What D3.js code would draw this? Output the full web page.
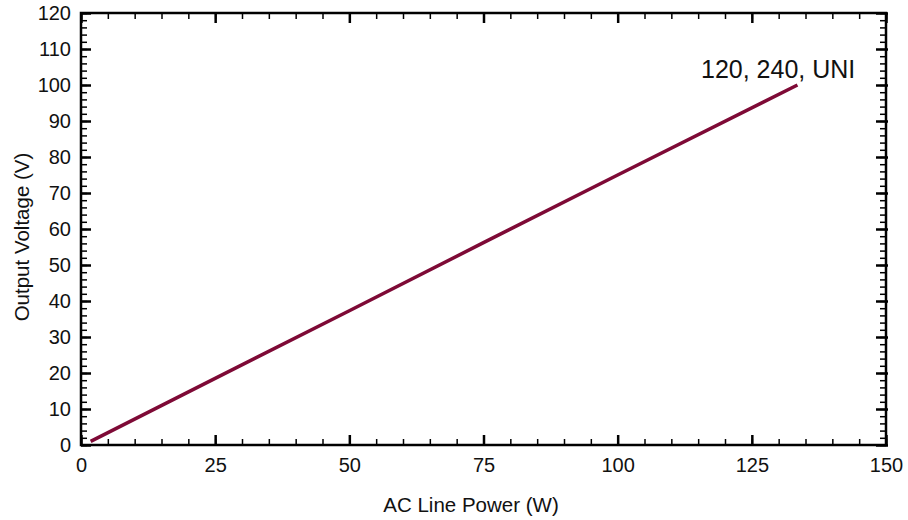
<!DOCTYPE html>
<html>
<head>
<meta charset="utf-8">
<script src="https://cdn.jsdelivr.net/npm/d3@7/dist/d3.min.js"></script>
<style>
  html, body { margin: 0; padding: 0; background: #ffffff; }
  svg { display: block; font-family: "Liberation Sans", Arial, sans-serif; }
  .axis path.domain { display: none; }
  .axis text { font-size: 20px; fill: #111; font-family: "Liberation Sans", Arial, sans-serif; }
</style>
</head>
<body>
<svg id="chart" width="908" height="520"></svg>
<script>
// Output voltage against AC line power (curve labelled 120, 240, UNI)
const powerW = [1.8, 25, 50, 75, 100, 133.5];
const outputV = [1, 18.5, 37.3, 56.2, 75, 100];
const seriesLabel = "120, 240, UNI";

const xMajorTicks = [0, 25, 50, 75, 100, 125, 150];
const xMinorTicks = d3.range(0, 151, 5);
const yMajorTicks = [0, 10, 20, 30, 40, 50, 60, 70, 80, 90, 100, 110, 120];
const yMinorTicks = d3.range(0, 121, 2);

const xTitle = "AC Line Power (W)";
const yTitle = "Output Voltage (V)";

const svg = d3.select("#chart");
const plotL = 81, plotR = 886, plotT = 13, plotB = 445;

const x = d3.scaleLinear().domain([0, 150]).range([plotL, plotR]);
const y = d3.scaleLinear().domain([0, 120]).range([plotB, plotT]);

// minor ticks (inward, no labels)
function minor(axis) { return axis.tickFormat("").tickSizeOuter(0); }
function styleTicks(sel, w) { sel.selectAll("line").attr("stroke", "#000").attr("stroke-width", w); }

styleTicks(svg.append("g").attr("class", "axis").attr("transform", `translate(${plotL},0)`)
  .call(minor(d3.axisLeft(y).tickValues(yMinorTicks).tickSizeInner(-6))), 1.5);
styleTicks(svg.append("g").attr("class", "axis").attr("transform", `translate(${plotR},0)`)
  .call(minor(d3.axisRight(y).tickValues(yMinorTicks).tickSizeInner(-6))), 1.5);
styleTicks(svg.append("g").attr("class", "axis").attr("transform", `translate(0,${plotB})`)
  .call(minor(d3.axisBottom(x).tickValues(xMinorTicks).tickSizeInner(-6))), 1.5);
styleTicks(svg.append("g").attr("class", "axis").attr("transform", `translate(0,${plotT})`)
  .call(minor(d3.axisTop(x).tickValues(xMinorTicks).tickSizeInner(-6))), 1.5);

// major ticks with labels on left and bottom
styleTicks(svg.append("g").attr("class", "axis").attr("transform", `translate(${plotL},0)`)
  .call(d3.axisLeft(y).tickValues(yMajorTicks).tickSizeInner(-10).tickSizeOuter(0).tickPadding(10)), 2.5);
styleTicks(svg.append("g").attr("class", "axis").attr("transform", `translate(0,${plotB})`)
  .call(d3.axisBottom(x).tickValues(xMajorTicks).tickSizeInner(-10).tickSizeOuter(0).tickPadding(13)), 2.5);
styleTicks(svg.append("g").attr("class", "axis").attr("transform", `translate(${plotR + 2},0)`)
  .call(minor(d3.axisRight(y).tickValues(yMajorTicks).tickSizeInner(-12))), 2.5);
styleTicks(svg.append("g").attr("class", "axis").attr("transform", `translate(0,${plotT})`)
  .call(minor(d3.axisTop(x).tickValues(xMajorTicks).tickSizeInner(-10))), 2.5);

// frame
svg.append("rect")
  .attr("x", plotL).attr("y", plotT)
  .attr("width", plotR - plotL).attr("height", plotB - plotT)
  .attr("fill", "none").attr("stroke", "#000").attr("stroke-width", 2.5);

// data line
const pts = powerW.map((p, i) => [p, outputV[i]]);
svg.append("path")
  .datum(pts)
  .attr("fill", "none")
  .attr("stroke", "#7e0a36")
  .attr("stroke-width", 3.5)
  .attr("d", d3.line().x(d => x(d[0])).y(d => y(d[1])));

// series label near the end of the line
svg.append("text")
  .attr("x", 701).attr("y", 78)
  .attr("font-size", 25).attr("fill", "#111")
  .text(seriesLabel);

// axis titles
svg.append("text")
  .attr("x", 471).attr("y", 512)
  .attr("text-anchor", "middle").attr("font-size", 20.5).attr("fill", "#111")
  .text(xTitle);
svg.append("text")
  .attr("transform", `translate(29,237) rotate(-90)`)
  .attr("text-anchor", "middle").attr("font-size", 20.5).attr("fill", "#111")
  .text(yTitle);
</script>
</body>
</html>
